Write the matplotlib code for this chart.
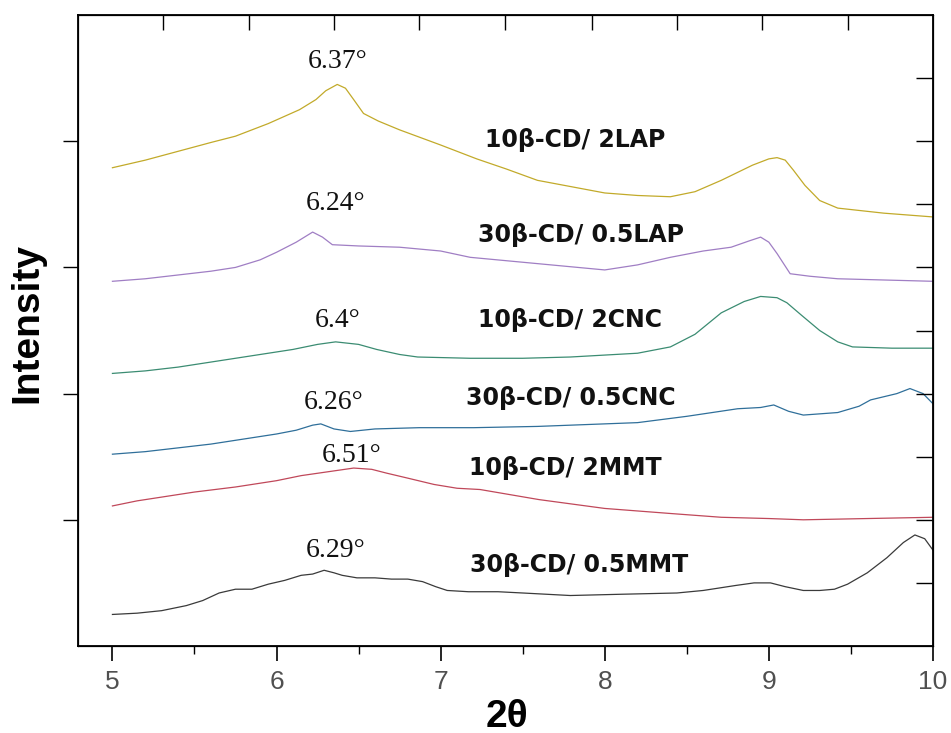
import numpy as np
import matplotlib.pyplot as plt

# XRD traces (2theta, stacked intensity in plot units)
x_mmt05 = [5.0, 5.15, 5.3, 5.45, 5.55, 5.65, 5.75, 5.85, 5.95, 6.05, 6.15, 6.22, 6.29, 6.35, 6.4, 6.49, 6.6, 6.7, 6.8, 6.89, 6.97, 7.04, 7.17, 7.35, 7.5, 7.79, 8.1, 8.44, 8.6, 8.7, 8.8, 8.91, 9.01, 9.1, 9.21, 9.31, 9.4, 9.48, 9.6, 9.72, 9.82, 9.89, 9.95, 10.0]
y_mmt05 = [0.25, 0.26, 0.28, 0.32, 0.36, 0.42, 0.45, 0.45, 0.49, 0.52, 0.56, 0.57, 0.60, 0.58, 0.56, 0.54, 0.54, 0.53, 0.53, 0.51, 0.47, 0.44, 0.43, 0.43, 0.42, 0.40, 0.41, 0.42, 0.44, 0.46, 0.48, 0.50, 0.50, 0.47, 0.44, 0.44, 0.45, 0.49, 0.58, 0.70, 0.82, 0.88, 0.85, 0.76]

x_mmt2 = [5.0, 5.15, 5.3, 5.5, 5.75, 6.0, 6.15, 6.31, 6.47, 6.58, 6.67, 6.8, 6.96, 7.1, 7.24, 7.6, 8.0, 8.4, 8.71, 9.0, 9.21, 9.6, 10.0]
y_mmt2 = [1.11, 1.15, 1.18, 1.22, 1.26, 1.31, 1.35, 1.38, 1.41, 1.40, 1.37, 1.33, 1.28, 1.25, 1.24, 1.16, 1.09, 1.05, 1.02, 1.01, 1.00, 1.01, 1.02]

x_cnc05 = [5.0, 5.2, 5.4, 5.6, 5.75, 6.0, 6.12, 6.22, 6.27, 6.35, 6.45, 6.6, 6.87, 7.2, 7.59, 8.2, 8.5, 8.81, 8.95, 9.03, 9.12, 9.21, 9.42, 9.55, 9.62, 9.78, 9.86, 9.94, 10.0]
y_cnc05 = [1.52, 1.54, 1.57, 1.60, 1.63, 1.68, 1.71, 1.75, 1.76, 1.72, 1.70, 1.72, 1.73, 1.73, 1.74, 1.77, 1.82, 1.88, 1.89, 1.91, 1.86, 1.83, 1.85, 1.90, 1.95, 2.00, 2.04, 2.00, 1.92]

x_cnc2 = [5.0, 5.2, 5.4, 5.6, 5.75, 5.95, 6.1, 6.25, 6.36, 6.5, 6.61, 6.75, 6.86, 7.18, 7.5, 7.79, 8.2, 8.4, 8.55, 8.71, 8.85, 8.95, 9.05, 9.11, 9.2, 9.31, 9.42, 9.51, 9.75, 10.0]
y_cnc2 = [2.16, 2.18, 2.21, 2.25, 2.28, 2.32, 2.35, 2.39, 2.41, 2.39, 2.35, 2.31, 2.29, 2.28, 2.28, 2.29, 2.32, 2.37, 2.47, 2.64, 2.73, 2.77, 2.76, 2.72, 2.62, 2.50, 2.41, 2.37, 2.36, 2.36]

x_lap05 = [5.0, 5.2, 5.4, 5.6, 5.75, 5.9, 6.0, 6.12, 6.22, 6.28, 6.34, 6.5, 6.75, 7.0, 7.18, 7.59, 8.0, 8.2, 8.4, 8.6, 8.77, 8.88, 8.95, 9.0, 9.05, 9.13, 9.25, 9.42, 10.0]
y_lap05 = [2.89, 2.91, 2.94, 2.97, 3.00, 3.06, 3.12, 3.20, 3.28, 3.24, 3.18, 3.17, 3.16, 3.13, 3.08, 3.03, 2.98, 3.02, 3.08, 3.13, 3.16, 3.21, 3.24, 3.20, 3.11, 2.95, 2.93, 2.91, 2.89]

x_lap2 = [5.0, 5.2, 5.4, 5.6, 5.75, 5.95, 6.14, 6.24, 6.3, 6.37, 6.42, 6.47, 6.53, 6.62, 6.75, 7.0, 7.22, 7.4, 7.59, 8.0, 8.2, 8.4, 8.55, 8.71, 8.9, 9.0, 9.05, 9.1, 9.15, 9.22, 9.31, 9.42, 9.7, 10.0]
y_lap2 = [3.79, 3.85, 3.92, 3.99, 4.04, 4.14, 4.25, 4.33, 4.40, 4.45, 4.42, 4.33, 4.22, 4.16, 4.09, 3.97, 3.86, 3.78, 3.69, 3.59, 3.57, 3.56, 3.60, 3.69, 3.81, 3.86, 3.87, 3.85, 3.77, 3.65, 3.53, 3.47, 3.43, 3.40]

series = [
    (x_mmt05, y_mmt05, "#3a3a3a"),
    (x_mmt2, y_mmt2, "#c0485a"),
    (x_cnc05, y_cnc05, "#2f6f9a"),
    (x_cnc2, y_cnc2, "#3b8c72"),
    (x_lap05, y_lap05, "#a07ec4"),
    (x_lap2, y_lap2, "#c2aa2a"),
]

sample_names = ["30β-CD/ 0.5MMT", "10β-CD/ 2MMT", "30β-CD/ 0.5CNC",
                "10β-CD/ 2CNC", "30β-CD/ 0.5LAP", "10β-CD/ 2LAP"]
name_x = [7.18, 7.17, 7.156, 7.229, 7.229, 7.272]
name_y = [0.586, 1.355, 1.91, 2.528, 3.20, 3.954]

peak_labels = ["6.29°", "6.51°", "6.26°", "6.4°", "6.24°", "6.37°"]
peak_x = [6.36, 6.46, 6.35, 6.375, 6.36, 6.37]
peak_y = [0.76, 1.51, 1.93, 2.58, 3.51, 4.63]

fig = plt.figure(figsize=(9.51, 7.33), dpi=100)
ax = fig.add_axes([0.082, 0.1187, 0.899, 0.8608])

for xs, ys, c in series:
    ax.plot(xs, ys, color=c, lw=0.9)

for name, tx, ty in zip(sample_names, name_x, name_y):
    ax.text(tx, ty, name, fontsize=17, fontweight="bold", family="DejaVu Sans",
            ha="left", va="baseline", color="#111111")

for lab, tx, ty in zip(peak_labels, peak_x, peak_y):
    ax.text(tx, ty, lab, fontsize=20, family="Liberation Serif",
            ha="center", va="center", color="#111111")

ax.set_xlim(4.79, 10)
ax.set_ylim(0, 5)
ax.set_xticks([5, 6, 7, 8, 9, 10])
ax.set_xticks(np.arange(5.5, 10, 1.0), minor=True)
ax.set_yticks([1, 2, 3, 4])
ax.set_yticklabels([])
ax.tick_params(axis="x", which="major", direction="out", length=11, width=1.2,
               labelsize=19, labelcolor="#505050", pad=6)
ax.tick_params(axis="x", which="minor", direction="out", length=6, width=1.0)
ax.tick_params(axis="y", direction="out", length=11, width=1.0)
for lab in ax.get_xticklabels():
    lab.set_family("Liberation Sans")
for s in ax.spines.values():
    s.set_linewidth(1.3)

# top axis ticks (inward, no labels)
ax_top = ax.twiny()
ax_top.set_xlim(ax.get_xlim())
ax_top.set_xticks([5.31, 5.83, 6.35, 6.87, 7.39, 7.92, 8.44, 8.96, 9.48])
ax_top.set_xticklabels([])
ax_top.tick_params(axis="x", direction="in", length=11, width=1.0)

# right axis ticks (inward, no labels)
ax_r = ax.twinx()
ax_r.set_ylim(ax.get_ylim())
ax_r.set_yticks(np.arange(0.5, 5, 0.5))
ax_r.set_yticklabels([])
ax_r.tick_params(axis="y", direction="in", length=12, width=1.0)

fig.text(0.533, 0.022, "2θ", fontsize=28, fontweight="bold", family="Liberation Sans",
         ha="center", va="center")
fig.text(0.029, 0.56, "Intensity", fontsize=28, fontweight="bold", family="Liberation Sans",
         ha="center", va="center", rotation=90)

fig.savefig("out.png", dpi=100)
